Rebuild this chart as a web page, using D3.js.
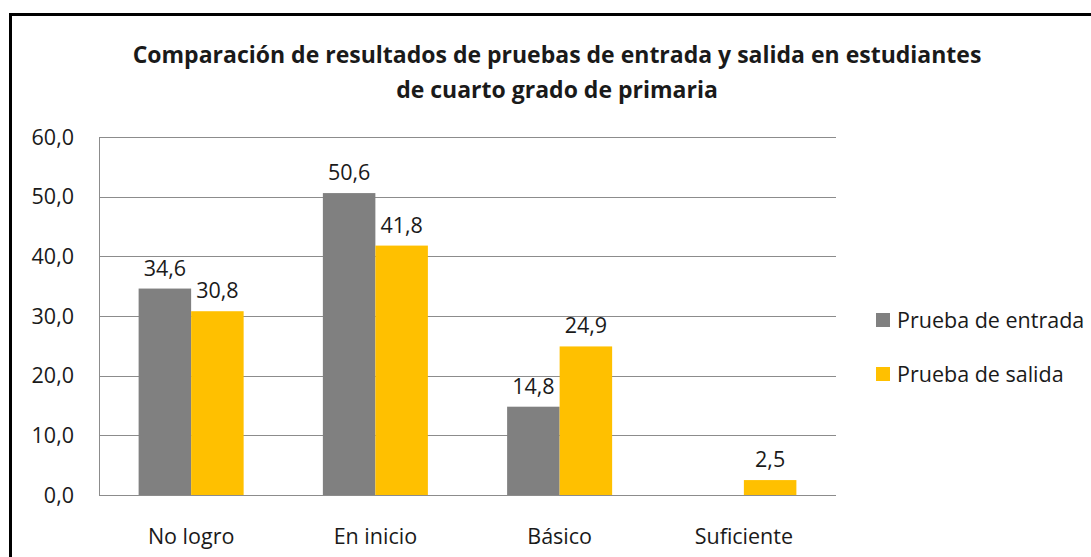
<!DOCTYPE html>
<html>
<head>
<meta charset="utf-8">
<script src="https://cdn.jsdelivr.net/npm/d3@7"></script>
<style>
  body { margin: 0; background: #fff; }
  text { font-family: "Open Sans", sans-serif; fill: #1a1a1a; }
</style>
</head>
<body>
<svg></svg>
<script>
var categories = ["No logro", "En inicio", "Básico", "Suficiente"];
var seriesNames = ["Prueba de entrada", "Prueba de salida"];
var entrada = [34.6, 50.6, 14.8, null];
var salida = [30.8, 41.8, 24.9, 2.5];
var yTicks = [0, 10, 20, 30, 40, 50, 60];
var colors = ["#808080", "#FFC000"];

var svg = d3.select("svg")
            .attr("width", 1091)
            .attr("height", 557);

// outer frame, runs off the right and bottom edge
svg.append("rect")
    .attr("x", 10.5).attr("y", 14.5)
    .attr("width", 1200).attr("height", 700)
    .style("fill", "#fff")
    .style("stroke", "#000")
    .style("stroke-width", 3);

var margin = {top: 137, left: 99},
    width = 737,
    height = 358,
    g = svg.append("g").attr("transform", "translate(" + margin.left + "," + margin.top + ")");

var x0 = d3.scaleBand().domain(categories).range([0, width]).paddingInner(0.43).paddingOuter(0.215),
    x1 = d3.scaleBand().domain(seriesNames).range([0, x0.bandwidth()]),
    y = d3.scaleLinear().domain([0, 60]).range([height, 0]);

//gridlines
g.selectAll(".grid")
    .data(yTicks)
    .enter().append("line")
    .attr("x1", 0).attr("x2", width)
    .attr("y1", function(d) { return Math.round(y(d)) + 0.5; })
    .attr("y2", function(d) { return Math.round(y(d)) + 0.5; })
    .style("stroke", "#8c8c8c")
    .style("stroke-width", 1);

g.append("line")
    .attr("x1", 0.5).attr("x2", 0.5)
    .attr("y1", 0).attr("y2", height)
    .style("stroke", "#8c8c8c");

//y tick labels
g.selectAll(".ytick")
    .data(yTicks)
    .enter().append("text")
    .attr("x", -25)
    .attr("y", function(d) { return y(d); })
    .attr("dy", "0.35em")
    .attr("text-anchor", "end")
    .style("font-size", "21.5px")
    .text(function(d) { return d3.format(".1f")(d).replace(".", ","); });

var series = [entrada, salida];
series.forEach(function(vals, i) {
    var bars = vals.map(function(v, j) { return {cat: categories[j], v: v}; })
                   .filter(function(d) { return d.v !== null; });
    g.selectAll(".bar" + i)
        .data(bars)
        .enter().append("rect")
        .attr("x", function(d) { return x0(d.cat) + x1(seriesNames[i]); })
        .attr("y", function(d) { return y(d.v); })
        .attr("width", x1.bandwidth())
        .attr("height", function(d) { return height - y(d.v); })
        .style("fill", colors[i]);

    g.selectAll(".lab" + i)
        .data(bars)
        .enter().append("text")
        .attr("x", function(d) { return x0(d.cat) + x1(seriesNames[i]) + x1.bandwidth() / 2; })
        .attr("y", function(d) { return y(d.v) - 13; })
        .attr("text-anchor", "middle")
        .style("font-size", "21.5px")
        .text(function(d) { return d3.format(".1f")(d.v).replace(".", ","); });
});

//category labels
g.selectAll(".xlab")
    .data(categories)
    .enter().append("text")
    .attr("x", function(d) { return x0(d) + x0.bandwidth() / 2; })
    .attr("y", height + 49)
    .attr("text-anchor", "middle")
    .style("font-size", "21.5px")
    .text(function(d) { return d; });

//title
var title = svg.append("text")
    .attr("text-anchor", "middle")
    .style("font-size", "23px")
    .style("font-weight", "bold");
title.append("tspan").attr("x", 557).attr("y", 63)
    .text("Comparación de resultados de pruebas de entrada y salida en estudiantes");
title.append("tspan").attr("x", 557).attr("y", 98)
    .text("de cuarto grado de primaria");

//legend
var legend = svg.selectAll(".legend")
    .data(seriesNames)
    .enter().append("g")
    .attr("transform", function(d, i) { return "translate(876," + (313 + i * 54) + ")"; });
legend.append("rect")
    .attr("width", 14).attr("height", 14)
    .style("fill", function(d, i) { return colors[i]; });
legend.append("text")
    .attr("x", 21).attr("y", 7)
    .attr("dy", "0.35em")
    .style("font-size", "21.5px")
    .text(function(d) { return d; });
</script>
</body>
</html>
